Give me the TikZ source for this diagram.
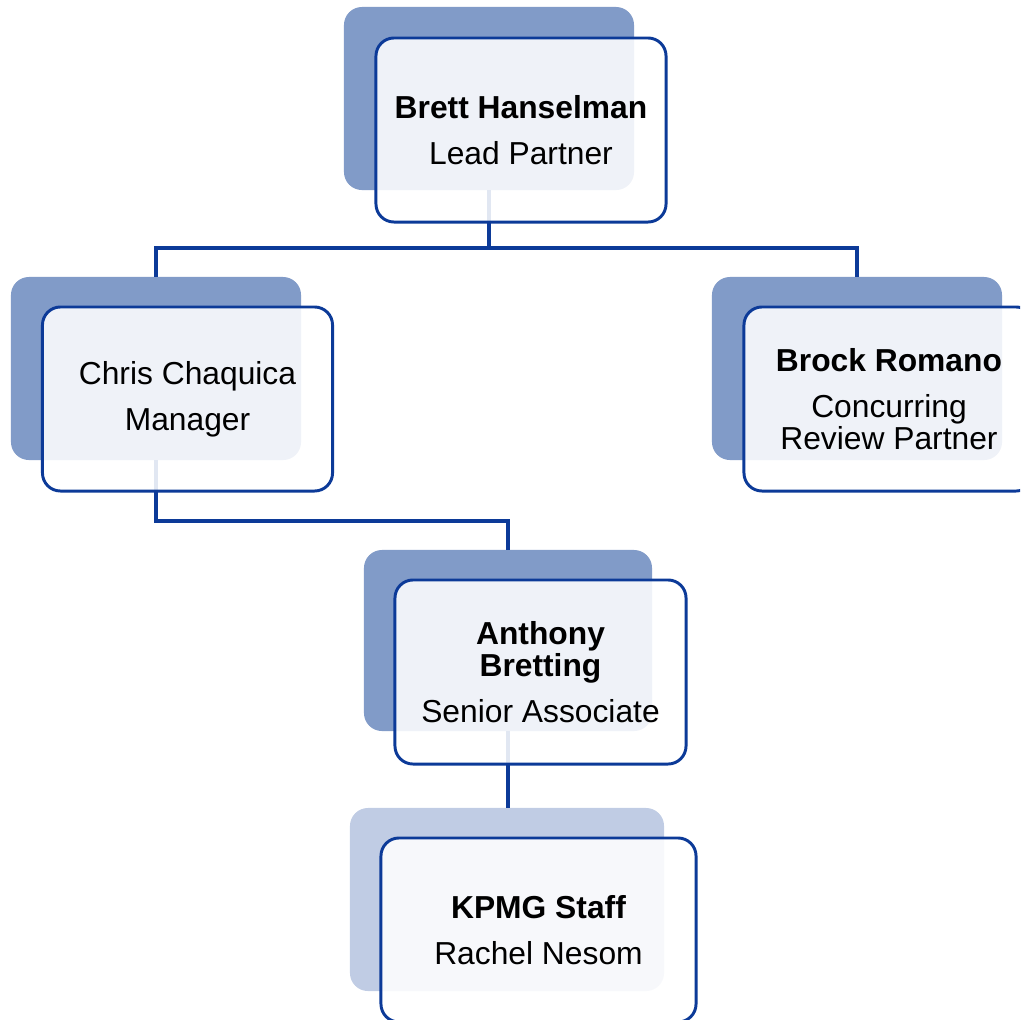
\documentclass[tikz,border=0pt]{standalone}
\usepackage{fontspec}
\setmainfont{Liberation Sans}
\usepackage{tikz}
\usetikzlibrary{positioning}
\definecolor{navy}{HTML}{0C3A98}
\definecolor{slate}{HTML}{819BC8}
\definecolor{pale}{HTML}{C0CCE4}

\begin{document}
\begin{tikzpicture}[x=0.025cm, y=-0.025cm]
\tikzstyle{plate} = [rectangle, rounded corners=0.45cm, fill=slate, minimum width=7.25cm, minimum height=4.575cm, inner sep=0cm]
\tikzstyle{card} = [rectangle, rounded corners=0.45cm, draw=navy, line width=2.1pt, fill=white, fill opacity=0.88, text opacity=1, minimum width=7.25cm, minimum height=4.6cm, inner sep=0cm, align=center, font=\fontsize{22.6}{22.8}\selectfont]
\tikzstyle{link} = [draw=navy, line width=2.2pt]
\clip (0,0) rectangle (1020,1020);
\useasboundingbox (0,0) rectangle (1020,1020);
\node[plate] (lead-bg) at (489,98.5) {};
\node[plate] (mgr-bg) at (156,368.5) {};
\node[plate] (rev-bg) at (857,368.5) {};
\node[plate, minimum width=7.2cm, minimum height=4.525cm] (assoc-bg) at (508,640.5) {};
\node[plate, fill=pale, minimum width=7.85cm] (staff-bg) at (507,899.5) {};
\coordinate (bus) at (0,248);
\coordinate (jog) at (0,521);
\draw[link] (lead-bg.south) -- (lead-bg.south |- bus);
\draw[link] (mgr-bg.north) |- (bus -| lead-bg.south) -| (rev-bg.north);
\draw[link] (mgr-bg.south) -- (mgr-bg.south |- jog) -| (assoc-bg.north);
\draw[link] (assoc-bg.south) -- (assoc-bg.south |- staff-bg.north);
\node[card] (lead) at (521,130) {\textbf{Brett Hanselman}\\[10pt]Lead Partner};
\node[card] (mgr) at (187.5,399) {Chris Chaquica\\[10pt]Manager};
\node[card] (rev) at (889,399) {\textbf{Brock Romano}\\[10pt]Concurring\\Review Partner};
\node[card, minimum width=7.275cm] (assoc) at (540.5,672) {\textbf{Anthony}\\\textbf{Bretting}\\[10pt]Senior Associate};
\node[card, minimum width=7.875cm] (staff) at (538.5,930) {\textbf{KPMG Staff}\\[10pt]Rachel Nesom};
\end{tikzpicture}
\end{document}
